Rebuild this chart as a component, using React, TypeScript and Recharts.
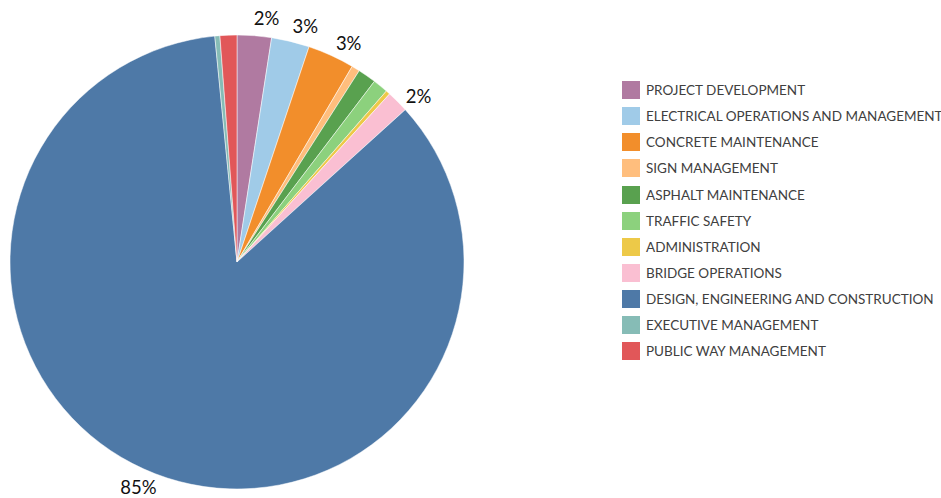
import React from "react";
import { PieChart, Pie, Cell } from "recharts";

const categories = [
  "PROJECT DEVELOPMENT",
  "ELECTRICAL OPERATIONS AND MANAGEMENT",
  "CONCRETE MAINTENANCE",
  "SIGN MANAGEMENT",
  "ASPHALT MAINTENANCE",
  "TRAFFIC SAFETY",
  "ADMINISTRATION",
  "BRIDGE OPERATIONS",
  "DESIGN, ENGINEERING AND CONSTRUCTION",
  "EXECUTIVE MANAGEMENT",
  "PUBLIC WAY MANAGEMENT",
];

const values = [2.44, 2.7, 3.33, 0.58, 1.3, 1.08, 0.3, 1.56, 85.15, 0.36, 1.2];

const colors = [
  "#B07AA1",
  "#A0CBE8",
  "#F28E2B",
  "#FFBE7D",
  "#59A14F",
  "#8CD17D",
  "#EDC948",
  "#FABFD2",
  "#4E79A7",
  "#86BCB6",
  "#E15759",
];

const data = categories.map((name, i) => ({ name, value: values[i] }));

const RAD = Math.PI / 180;
const FONT = "Lato, 'Open Sans', sans-serif";

const renderLabel = (props: any) => {
  const { cx, cy, midAngle, outerRadius, percent } = props;
  if (percent < 0.015) return null;
  const r = outerRadius + 19;
  const a = midAngle - 2.5;
  const x = cx + r * Math.cos(-a * RAD);
  const y = cy + r * Math.sin(-a * RAD);
  return (
    <text
      x={x}
      y={y}
      textAnchor="middle"
      dominantBaseline="central"
      fontSize={18.5}
      fontFamily={FONT}
      fill="#111"
    >
      {`${Math.round(percent * 100)}%`}
    </text>
  );
};

export default function App() {
  return (
    <div style={{ position: "absolute", left: 0, top: 0, width: 941, height: 498, background: "#fff" }}>
      <PieChart width={941} height={498} margin={{ top: 0, right: 0, bottom: 0, left: 0 }}>
        <Pie
          data={data}
          dataKey="value"
          nameKey="name"
          cx={237}
          cy={262}
          outerRadius={227}
          startAngle={90}
          endAngle={-270}
          stroke="#fff"
          strokeWidth={0.5}
          label={renderLabel}
          labelLine={false}
          isAnimationActive={false}
        >
          {data.map((d, i) => (
            <Cell key={d.name} fill={colors[i]} />
          ))}
        </Pie>
      </PieChart>
      <div style={{ position: "absolute", left: 622, top: 77 }}>
        {data.map((d, i) => (
          <div
            key={d.name}
            style={{ display: "flex", alignItems: "center", height: 26.15 }}
          >
            <div style={{ width: 18, height: 18, background: colors[i], marginRight: 6 }} />
            <span style={{ fontFamily: FONT, fontSize: 13.5, color: "#404040", whiteSpace: "nowrap" }}>
              {d.name}
            </span>
          </div>
        ))}
      </div>
    </div>
  );
}
